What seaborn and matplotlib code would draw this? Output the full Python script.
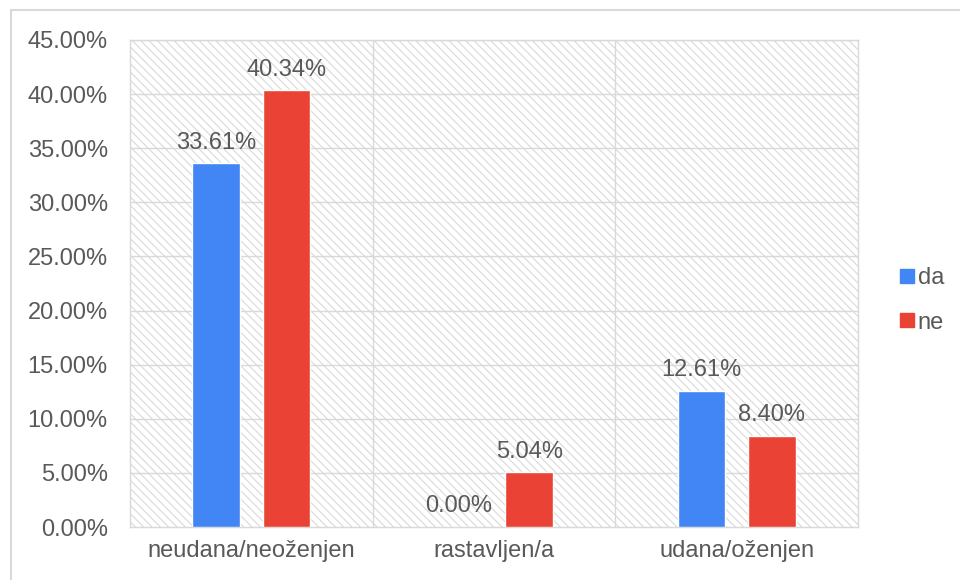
import pandas as pd
import numpy as np
import matplotlib
matplotlib.use("Agg")
import matplotlib.pyplot as plt
import seaborn as sns
from matplotlib.lines import Line2D
from matplotlib.patches import Rectangle

# Dados
categorias = ["neudana/neoženjen", "rastavljen/a", "udana/oženjen"]
serie_da = [33.61, 0.00, 12.61]
serie_ne = [40.34, 5.04, 8.40]
grupos = ["da", "ne"]
cores = {"da": "#4285F4", "ne": "#EA4335"}
yticks = np.arange(0, 46, 5)

df = pd.DataFrame({
    "categoria": categorias * 2,
    "grupo": ["da"] * 3 + ["ne"] * 3,
    "valor": serie_da + serie_ne,
})

sns.set_theme(style="white")
plt.rcParams["font.family"] = ["Liberation Sans", "DejaVu Sans"]
plt.rcParams["hatch.linewidth"] = 0.8
plt.rcParams["hatch.color"] = "#D9D9D9"
texto = "#595959"
cinza = "#D9D9D9"
fs = 17

fig = plt.figure(figsize=(9.6, 5.8), dpi=100)
ax = fig.add_axes([130 / 960, 1 - 527 / 580, (858 - 130) / 960, (527 - 40) / 580])

# fundo hachurado
ax.add_patch(Rectangle((0, 0), 1, 1, transform=ax.transAxes, facecolor="white",
                       edgecolor=cinza, hatch="\\\\\\\\", linewidth=0, zorder=0))

sns.barplot(data=df, x="categoria", y="valor", hue="grupo", palette=cores,
            width=0.58, gap=0.32, ax=ax, legend=False, zorder=3, saturation=1)

ax.set_ylim(0, 45)
ax.set_xlim(-0.5, 2.5)
ax.set_yticks(yticks)
ax.set_yticklabels([f"{v:.2f}%" for v in yticks])
ax.set_xlabel("")
ax.set_ylabel("")
for y in yticks[1:]:
    ax.axhline(y, color=cinza, lw=1, zorder=1)
for x in [0.5, 1.5]:
    ax.axvline(x, color=cinza, lw=1, zorder=1)
for s in ax.spines.values():
    s.set_color(cinza)
    s.set_linewidth(1)
ax.tick_params(axis="both", length=0, labelsize=fs, labelcolor=texto)
ax.tick_params(axis="y", pad=16)
ax.tick_params(axis="x", pad=9)

for cont in ax.containers:
    ax.bar_label(cont, labels=[f"{v:.2f}%" for v in cont.datavalues],
                 padding=7, fontsize=fs, color=texto)

handles = [Line2D([], [], marker="s", linestyle="", markersize=10,
                  markerfacecolor=cores[g], markeredgecolor=cores[g]) for g in grupos]
fig.legend(handles, grupos, loc="center left", bbox_to_anchor=(0.913, 0.482),
           frameon=False, fontsize=fs, labelcolor=texto, handletextpad=0.05,
           labelspacing=0.95, handlelength=0.8)

# moldura externa
fig.add_artist(Line2D([11 / 960, 1], [1 - 10 / 580, 1 - 10 / 580],
                      transform=fig.transFigure, color=cinza, lw=1.5))
fig.add_artist(Line2D([11 / 960, 11 / 960], [0, 1 - 10 / 580],
                      transform=fig.transFigure, color=cinza, lw=1.5))

fig.savefig("out.png", dpi=100)
